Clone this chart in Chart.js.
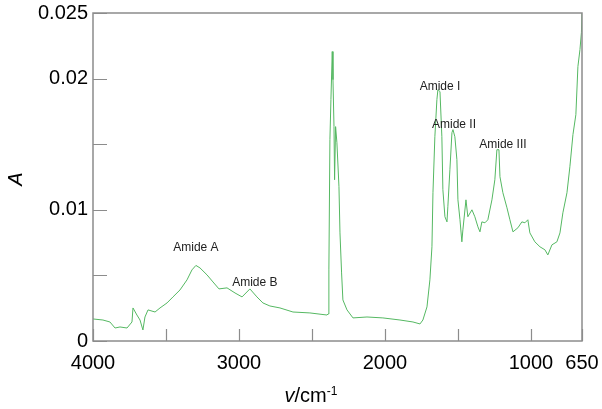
<!DOCTYPE html>
<html>
<head>
<meta charset="utf-8">
<script src="https://cdn.jsdelivr.net/npm/chart.js@4/dist/chart.umd.min.js"></script>
<style>
  body { margin: 0; background: #fff; }
  #wrap { width: 602px; height: 409px; position: relative; }
</style>
</head>
<body>
<div id="wrap"><canvas id="irChart"></canvas></div>
<script>
// spectrum (wavenumber in cm-1, absorbance)
const wavenumbers = [4000, 3932, 3884, 3849, 3815, 3767, 3733, 3726, 3699, 3678, 3658, 3644, 3623, 3575, 3541,
  3493, 3452, 3404, 3356, 3322, 3295, 3267, 3219, 3178, 3137, 3082, 3027, 2979, 2925, 2877, 2836, 2788, 2719,
  2630, 2514, 2397, 2390, 2384, 2377, 2370, 2361, 2356, 2349, 2345, 2338, 2329, 2315, 2308, 2297, 2288, 2260,
  2219, 2123, 2014, 1897, 1808, 1760, 1740, 1712, 1692, 1678, 1671, 1658, 1644, 1637, 1623, 1610, 1603, 1589,
  1575, 1569, 1555, 1541, 1534, 1521, 1507, 1500, 1486, 1473, 1466, 1445, 1432, 1404, 1384, 1363, 1349, 1336,
  1315, 1295, 1267, 1247, 1233, 1219, 1212, 1192, 1164, 1144, 1123, 1089, 1062, 1041, 1021, 1007, 973, 938,
  904, 884, 856, 822, 801, 781, 753, 733, 712, 692, 678, 664, 654, 650];
const absorbance = [0.00168, 0.0016, 0.00145, 0.00099, 0.00107, 0.00099, 0.00145, 0.00252, 0.00198, 0.0016,
  0.00084, 0.00183, 0.00237, 0.00221, 0.00252, 0.0029, 0.00336, 0.00389, 0.00466, 0.00542, 0.00576, 0.00557,
  0.00504, 0.0045, 0.00397, 0.00405, 0.00366, 0.00336, 0.00397, 0.00336, 0.0029, 0.00267, 0.00252, 0.00221,
  0.00214, 0.00198, 0.00206, 0.00542, 0.01534, 0.0184, 0.02206, 0.01992, 0.01634, 0.01229, 0.01634, 0.01511,
  0.01176, 0.00824, 0.00519, 0.00313, 0.00237, 0.00176, 0.00183, 0.00176, 0.0016, 0.00145, 0.0013, 0.0016,
  0.0026, 0.00466, 0.00718, 0.0113, 0.01557, 0.0184, 0.01916, 0.01901, 0.01557, 0.01153, 0.00947, 0.00908,
  0.01023, 0.01305, 0.01588, 0.01611, 0.01557, 0.01382, 0.01076, 0.00924, 0.00756, 0.00847, 0.01076, 0.00947,
  0.01, 0.00947, 0.0087, 0.00832, 0.00908, 0.00901, 0.00924, 0.01076, 0.01229, 0.01458, 0.01458, 0.01252,
  0.0113, 0.01015, 0.00924, 0.00832, 0.00863, 0.00908, 0.00901, 0.00924, 0.00824, 0.00756, 0.00718, 0.00695,
  0.00656, 0.00733, 0.00756, 0.00824, 0.00977, 0.0113, 0.01328, 0.01573, 0.01725, 0.02092, 0.02221, 0.02351,
  0.02504];

const xTickValues = [4000, 3500, 3000, 2500, 2000, 1500, 1000, 650];
const xTickLabels = ['4000', '', '3000', '', '2000', '', '1000', '650'];
const yTickValues = [0, 0.005, 0.01, 0.015, 0.02, 0.025];
const yTickLabels = ['0', '', '0.01', '', '0.02', '0.025'];

const peakNames = ['Amide A', 'Amide B', 'Amide I', 'Amide II', 'Amide III'];
const peakWn = [3295, 2891, 1623, 1527, 1192];
const peakAbs = [0.0071, 0.00443, 0.01939, 0.01649, 0.01496];

const points = wavenumbers.map((w, i) => ({x: w, y: absorbance[i]}));

const frameColor = '#8c8c8c';
const labelFont = '20px "Liberation Sans", Arial, sans-serif';

// axes, ticks and labels drawn by hand so the ticks point inward like the original
const axesPlugin = {
    id: 'spectrumAxes',
    afterDatasetsDraw(chart) {
        const ctx = chart.ctx;
        const area = chart.chartArea;
        const xs = chart.scales.x;
        const ys = chart.scales.y;
        ctx.save();

        ctx.strokeStyle = frameColor;
        ctx.lineWidth = 1.5;
        ctx.strokeRect(area.left, area.top, area.right - area.left, area.bottom - area.top);

        ctx.lineWidth = 1.2;
        ctx.beginPath();
        xTickValues.forEach(v => {
            const px = Math.round(xs.getPixelForValue(v)) + 0.5;
            ctx.moveTo(px, area.bottom);
            ctx.lineTo(px, area.bottom - 12);
        });
        yTickValues.forEach(v => {
            const py = Math.round(ys.getPixelForValue(v)) + 0.5;
            ctx.moveTo(area.left, py);
            ctx.lineTo(area.left + 14, py);
        });
        ctx.stroke();

        ctx.fillStyle = '#000';
        ctx.font = labelFont;
        ctx.textAlign = 'center';
        ctx.textBaseline = 'middle';
        xTickValues.forEach((v, i) => {
            if (xTickLabels[i]) ctx.fillText(xTickLabels[i], xs.getPixelForValue(v), area.bottom + 22);
        });
        ctx.textAlign = 'right';
        yTickValues.forEach((v, i) => {
            if (yTickLabels[i]) ctx.fillText(yTickLabels[i], area.left - 5, ys.getPixelForValue(v));
        });

        // axis titles
        ctx.textBaseline = 'alphabetic';
        ctx.textAlign = 'left';
        const vPart = 'v';
        const cmPart = '/cm';
        const supPart = '-1';
        ctx.font = 'italic ' + labelFont;
        const w1 = ctx.measureText(vPart).width;
        ctx.font = labelFont;
        const w2 = ctx.measureText(cmPart).width;
        ctx.font = '12px "Liberation Sans", Arial, sans-serif';
        const w3 = ctx.measureText(supPart).width;
        let tx = 311 - (w1 + w2 + w3) / 2;
        const ty = 402;
        ctx.font = 'italic ' + labelFont;
        ctx.fillText(vPart, tx, ty);
        ctx.font = labelFont;
        ctx.fillText(cmPart, tx + w1, ty);
        ctx.font = '12px "Liberation Sans", Arial, sans-serif';
        ctx.fillText(supPart, tx + w1 + w2, ty - 7);

        ctx.translate(16, 179);
        ctx.rotate(-Math.PI / 2);
        ctx.textAlign = 'center';
        ctx.textBaseline = 'middle';
        ctx.font = 'italic ' + labelFont;
        ctx.fillText('A', 0, 0);
        ctx.restore();

        // peak names
        ctx.save();
        ctx.fillStyle = '#222';
        ctx.font = '12px "Liberation Sans", Arial, sans-serif';
        ctx.textAlign = 'center';
        ctx.textBaseline = 'middle';
        peakNames.forEach((name, i) => {
            ctx.fillText(name, xs.getPixelForValue(peakWn[i]), ys.getPixelForValue(peakAbs[i]));
        });
        ctx.restore();
    }
};

const ctx = document.getElementById('irChart').getContext('2d');
const irChart = new Chart(ctx, {
    type: 'line',
    data: {
        datasets: [{
            data: points,
            borderColor: '#55b862',
            borderWidth: 1,
            pointRadius: 0,
            tension: 0,
            fill: false
        }]
    },
    options: {
        responsive: true,
        maintainAspectRatio: false,
        animation: false,
        layout: { padding: { left: 93, right: 20, top: 13, bottom: 68 } },
        plugins: {
            legend: { display: false },
            tooltip: { enabled: false }
        },
        scales: {
            x: { type: 'linear', reverse: true, min: 650, max: 4000, display: false },
            y: { type: 'linear', min: 0, max: 0.025, display: false }
        }
    },
    plugins: [axesPlugin]
});
</script>
</body>
</html>
